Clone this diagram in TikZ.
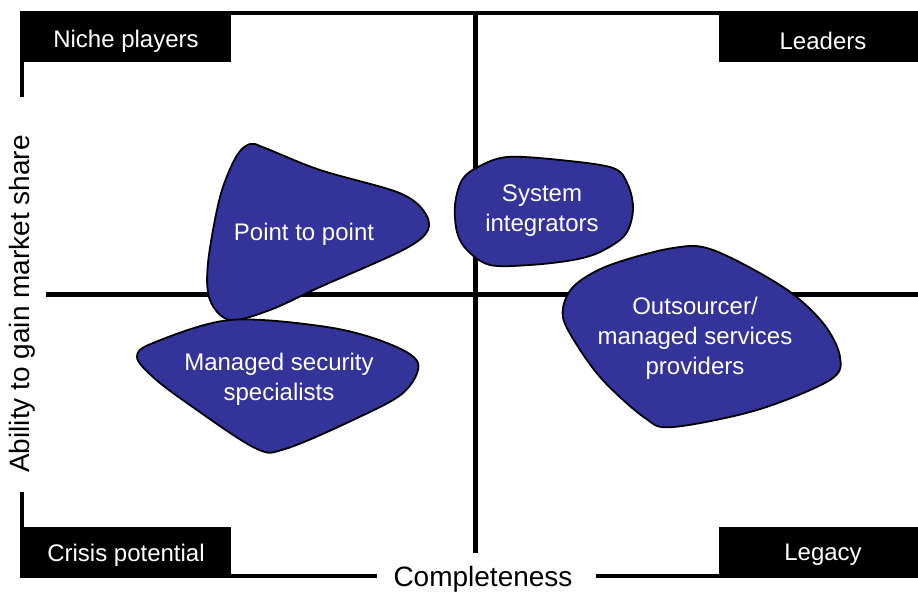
\documentclass[tikz,border=0pt]{standalone}
\usepackage{fontspec}
\setmainfont{Liberation Sans}
\definecolor{blobblue}{RGB}{51,51,153}
\begin{document}
\begin{tikzpicture}[x=1pt,y=-1pt,
  frameline/.style={line width=4pt,black},
  axisline/.style={line width=4.5pt,black},
  quadbox/.style={fill=black,draw=none},
  quadtext/.style={text=white,font=\fontsize{24}{28}\selectfont,inner sep=0pt},
  blob/.style={fill=blobblue,draw=black,line width=1.8pt},
  blobtext/.style={text=white,align=center,font=\fontsize{24}{30}\selectfont,inner sep=0pt},
  axistext/.style={text=black,font=\fontsize{28}{32}\selectfont,inner sep=0pt}]
\useasboundingbox (0,0) rectangle (918,592);

% outer frame
\draw[frameline] (20,12.5) -- (918,12.5);
\draw[frameline] (22,12) -- (22,97);
\draw[frameline] (22,492) -- (22,578);
\draw[frameline] (22,575.5) -- (377,575.5);
\draw[frameline] (596,575.5) -- (719,575.5);

% quadrant axes
\draw[axisline] (475.5,12) -- (475.5,553);
\draw[axisline] (46,294.5) -- (918,294.5);

% quadrant title boxes
\fill[quadbox] (20,11) rectangle (231,62);
\fill[quadbox] (719,11) rectangle (918,62);
\fill[quadbox] (20,527) rectangle (231,578);
\fill[quadbox] (719,527) rectangle (918,578);
\node[quadtext] (niche) at (126,41) {Niche players};
\node[quadtext] (leaders) at (823,41) {Leaders};
\node[quadtext] (crisis) at (126,555) {Crisis potential};
\node[quadtext] (legacy) at (823,555) {Legacy};

% axis labels
\node[axistext] (xlab) at (483,579) {Completeness};
\node[axistext,rotate=90] (ylab) at (22,304) {Ability to gain market share};

% segments
\draw[blob] plot[smooth cycle,tension=0.55] coordinates {
  (250,144) (265,148) (320,170) (397,192) (423,210) (428,230) (403,250)
  (320,287) (270,310) (230,320) (210,300) (208,263) (220,197) (236,157)};
\node[blobtext] (ptp) at (304,234) {Point to point};

\draw[blob] plot[smooth cycle,tension=0.55] coordinates {
  (137,357) (153,343) (230,320) (327,327) (387,343) (418,363)
  (403,393) (353,420) (285,449) (255,448) (187,403) (153,377)};
\node[blobtext] (mss) at (279,379) {Managed security\\specialists};

\draw[blob] plot[smooth cycle,tension=0.55] coordinates {
  (455,205) (462,180) (478,167) (507,157) (560,160) (613,168)
  (628,185) (633,210) (625,235) (600,252) (573,260) (530,265)
  (490,265) (467,250) (457,232)};
\node[blobtext] (si) at (542,211) {System\\integrators};

\draw[blob] plot[smooth cycle,tension=0.55] coordinates {
  (610,265) (673,248) (713,250) (783,287) (823,323) (840,357)
  (830,380) (757,410) (673,427) (645,418) (600,377) (568,330) (563,308) (575,285)};
\node[blobtext] (osp) at (695,338) {Outsourcer/\\managed services\\providers};
\end{tikzpicture}
\end{document}
